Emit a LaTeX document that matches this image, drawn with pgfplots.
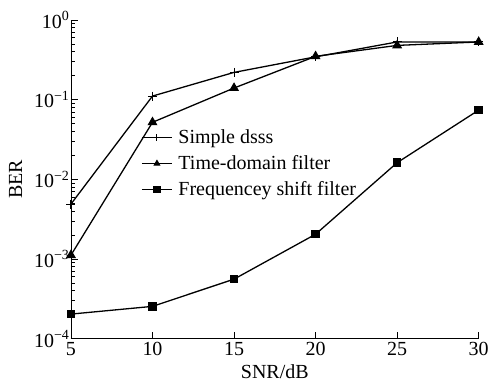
\documentclass[border=0pt]{standalone}
\usepackage{fontspec}
\setmainfont{Liberation Serif}
\usepackage{pgfplots}
\pgfplotsset{compat=1.18}
\begin{document}
\begin{tikzpicture}
\begin{axis}[
  name=ax,
  scale only axis,
  width=408pt, height=319pt,
  xmin=5, xmax=30, ymin=1e-4, ymax=1,
  ymode=log,
  axis lines=left,
  axis line style={-, line width=0.8pt},
  xtick={5,10,15,20,25,30},
  ytick={1e-4,1e-3,1e-2,1e-1,1},
  yticklabels={10\textsuperscript{−4},10\textsuperscript{−3},10\textsuperscript{−2},10\textsuperscript{−1},10\textsuperscript{0}},
  /pgf/number format/assume math mode=true,
  tick align=inside,
  major tick length=7pt,
  minor tick length=4pt,
  tick style={black, line width=0.6pt},
  ticklabel style={font=\fontsize{20}{22}\selectfont},
  yticklabel style={xshift=2pt},
  xlabel={SNR/dB},
  ylabel={BER},
  label style={font=\fontsize{20}{22}\selectfont},
  xlabel style={yshift=-2pt},
  ylabel style={yshift=5pt},
  legend style={draw=none, fill=none, at={(0.17,0.665)}, anchor=north west,
    font=\fontsize{20}{22}\selectfont, row sep=6.5pt, inner sep=1pt,
    /tikz/every odd column/.append style={column sep=4pt}},
  legend cell align=left,
  legend image code/.code={\draw[line width=1pt,mark repeat=2,mark phase=2,mark size=3.2pt] plot coordinates {(0pt,0pt)(15pt,0pt)(30pt,0pt)};},
]
\addplot[black, line width=1.3pt, mark=+, mark size=4.5pt, mark options={solid, line width=1pt}] coordinates {
(5,4.9e-3) (10,0.111) (15,0.22) (20,0.345) (25,0.53) (30,0.53)};
\addlegendentry{Simple dsss}
\addplot[black, line width=1.3pt, mark=triangle*, mark size=4.5pt, mark options={solid}] coordinates {
(5,1.12e-3) (10,0.052) (15,0.14) (20,0.35) (25,0.48) (30,0.53)};
\addlegendentry{Time-domain filter}
\addplot[black, line width=1.3pt, mark=square*, mark size=3.6pt, mark options={solid}] coordinates {
(5,2.04e-4) (10,2.55e-4) (15,5.6e-4) (20,2.05e-3) (25,0.0162) (30,0.074)};
\addlegendentry{Frequencey shift filter}
\end{axis}
\path ([xshift=-71pt,yshift=-47pt]ax.south west) rectangle ([xshift=13pt,yshift=20pt]ax.north east);
\end{tikzpicture}
\end{document}
